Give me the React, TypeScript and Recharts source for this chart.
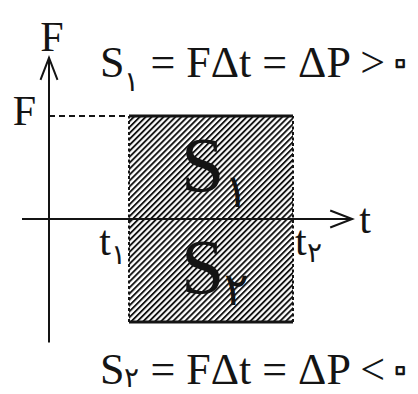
import { ComposedChart, XAxis, YAxis, Area, ReferenceLine, ReferenceDot } from 'recharts'

// impulse diagram: constant force F between t1 and t2, positive and negative cases
const times = [2, 6.1]
const timeNames = ['t', 't']
const timeSubs = ['۱', '۲']
const forces = [1, -1]
const areaSubs = ['۱', '۲']
const signs = ['>', '<']
const axisNames = ['F', 't']
const zero = '۰'

const rows = times.map(t => ({ t, up: forces[0], down: forces[1] }))

const SERIF = '"Liberation Serif", "Times New Roman", serif'
const INK = '#141414'

// where the equations sit (data coords)
const eqX = 1.275
const eqY = [1.38, -1.599]
const subDrop = [14, 3]

const ArrowLine = (p: any) => {
  const { x1, y1, x2, y2 } = p
  const len = 22
  const half = 8.5
  const a = Math.atan2(y2 - y1, x2 - x1)
  const bx = x2 - len * Math.cos(a)
  const by = y2 - len * Math.sin(a)
  const nx = -Math.sin(a) * half
  const ny = Math.cos(a) * half
  return (
    <g stroke={INK} strokeWidth={2} fill="none">
      <line x1={x1} y1={y1} x2={x2} y2={y2} />
      <polyline points={`${bx + nx},${by + ny} ${x2},${y2} ${bx - nx},${by - ny}`} strokeLinejoin="miter" />
    </g>
  )
}

const term = (base: string, sub: string, size: number, subSize: number, subDy: number,
  anchor: 'start' | 'middle' | 'end', dx: number, dy: number) => (p: any) => (
  <text x={p.cx + dx} y={p.cy + dy} textAnchor={anchor} fontFamily={SERIF} fontSize={size} fill={INK}>
    {base}
    {sub && <tspan fontSize={subSize} dy={subDy}>{sub}</tspan>}
  </text>
)

const equation = (i: number) => (p: any) => (
  <text x={p.cx} y={p.cy} fontFamily={SERIF} fontSize={44} fill={INK}>
    S
    <tspan fontSize={28} dy={subDrop[i]}>{areaSubs[i]}</tspan>
    <tspan dy={-subDrop[i]}>{` = FΔt = ΔP ${signs[i]}`}</tspan>
    {/* persian zero, outlined so it reads as a small ring */}
    <tspan fontFamily="DejaVu Sans" fontWeight="bold" fontSize={40} dx={3} dy={-2} fill="#fff" stroke={INK}
      strokeWidth={2.4} strokeLinejoin="round">{zero}</tspan>
  </text>
)

export default function App() {
  const [t1, t2] = times
  const F = forces[0]
  return (
    <div style={{ position: 'absolute', left: 0, top: 0, background: '#fff' }}>
      <ComposedChart width={418} height={394} data={rows} margin={{ top: 54.2, right: 49, bottom: 10.2, left: 9 }}>
        <defs>
          <pattern id="hatch" patternUnits="userSpaceOnUse" width={4.2} height={4.2} patternTransform="rotate(45)">
            <rect width={4.2} height={4.2} fill="#fff" />
            <rect width={1.9} height={4.2} fill={INK} />
          </pattern>
        </defs>
        <XAxis type="number" dataKey="t" domain={[-1, 8]} allowDataOverflow hide />
        <YAxis type="number" domain={[-1.6, 1.6]} allowDataOverflow hide />

        <Area dataKey="up" type="linear" baseValue={0} fill="url(#hatch)" fillOpacity={1} stroke="none" isAnimationActive={false} />
        <Area dataKey="down" type="linear" baseValue={0} fill="url(#hatch)" fillOpacity={1} stroke="none" isAnimationActive={false} />

        {/* edges of the impulse block */}
        <ReferenceLine segment={[{ x: 0, y: F }, { x: t1, y: F }]} stroke={INK} strokeWidth={2} strokeDasharray="6 4" ifOverflow="visible" />
        {forces.map((f, i) => (
          <ReferenceLine key={'h' + i} segment={[{ x: t1, y: f }, { x: t2, y: f }]} stroke={INK} strokeWidth={3.2} ifOverflow="visible" />
        ))}
        {times.map((t, i) => (
          <ReferenceLine key={'v' + i} segment={[{ x: t, y: forces[1] }, { x: t, y: forces[0] }]} stroke={INK} strokeWidth={2} strokeDasharray="3 2.5" ifOverflow="visible" />
        ))}

        {/* axes with arrows */}
        <ReferenceLine segment={[{ x: -0.675, y: 0 }, { x: 7.58, y: 0 }]} shape={ArrowLine} ifOverflow="visible" />
        <ReferenceLine segment={[{ x: 0, y: -1.2 }, { x: 0, y: 1.565 }]} shape={ArrowLine} ifOverflow="visible" />

        {/* labels */}
        <ReferenceDot x={0} y={1.565} r={0} ifOverflow="visible" shape={term(axisNames[0], '', 42, 0, 0, 'middle', 3, -7)} />
        <ReferenceDot x={7.58} y={0} r={0} ifOverflow="visible" shape={term(axisNames[1], '', 42, 0, 0, 'start', 7, 14)} />
        <ReferenceDot x={0} y={F} r={0} ifOverflow="visible" shape={term(axisNames[0], '', 42, 0, 0, 'end', -13, 9)} />
        <ReferenceDot x={t1} y={0} r={0} ifOverflow="visible" shape={term(timeNames[0], timeSubs[0], 42, 28, 9, 'end', -3, 36)} />
        <ReferenceDot x={t2} y={0} r={0} ifOverflow="visible" shape={term(timeNames[1], timeSubs[1], 42, 28, 7, 'start', 2, 36)} />
        {forces.map((f, i) => (
          <ReferenceDot key={'s' + i} x={(t1 + t2) / 2} y={f / 2} r={0} ifOverflow="visible"
            shape={term('S', areaSubs[i], 78, 46, i === 0 ? 16 : 12, 'start', -30, i === 0 ? 23 : 22)} />
        ))}
        {signs.map((s, i) => (
          <ReferenceDot key={'e' + i} x={eqX} y={eqY[i]} r={0} ifOverflow="visible" shape={equation(i)} />
        ))}
      </ComposedChart>
    </div>
  )
}
